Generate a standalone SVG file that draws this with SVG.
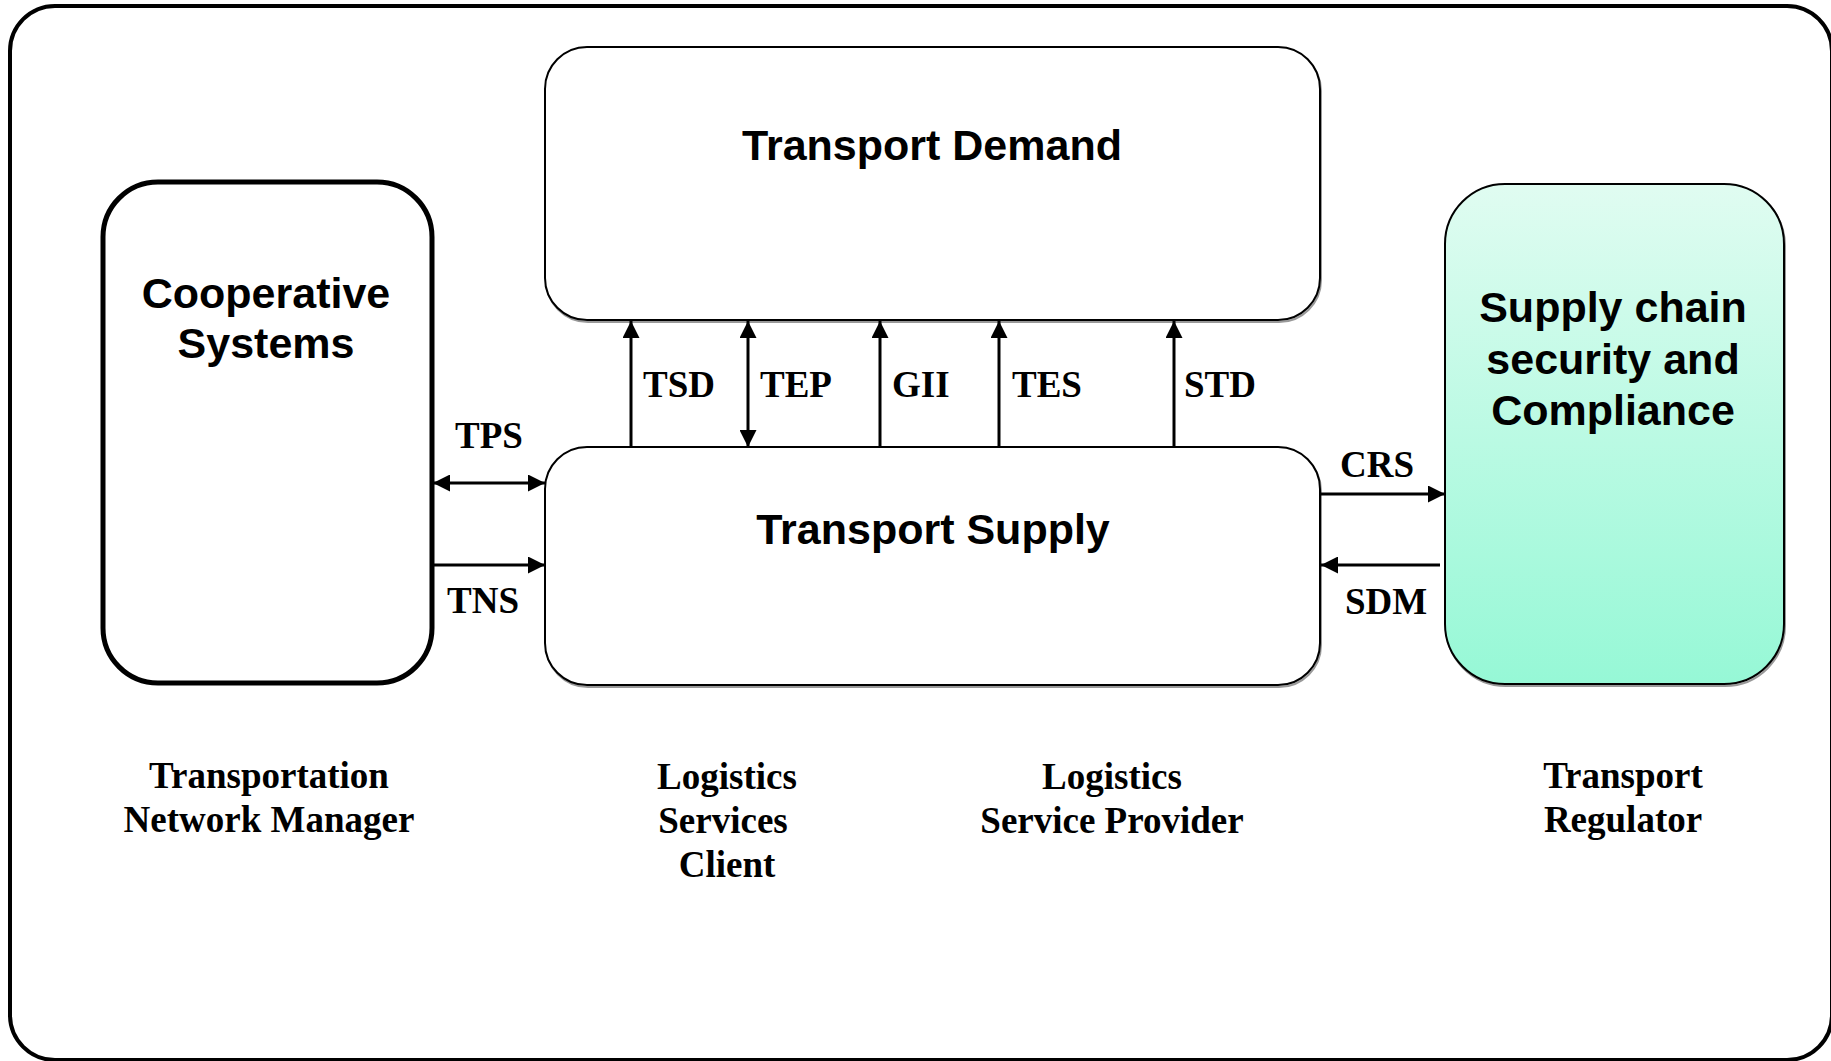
<svg xmlns="http://www.w3.org/2000/svg" width="1831" height="1061" viewBox="0 0 1831 1061">
<style>
.frame{fill:#fff;stroke:#000;stroke-width:4}
.box{fill:#fff;stroke:#000;stroke-width:2}
.thick{fill:#fff;stroke:#000;stroke-width:5}
.shadow{fill:none;stroke:#999;stroke-width:2}
.conn{stroke:#000;stroke-width:3;fill:none}
.title{font-family:"Liberation Sans",Arial,sans-serif;font-weight:bold;font-size:43px;fill:#000;text-anchor:middle}
.lbl{font-family:"Liberation Serif","Times New Roman",serif;font-weight:bold;font-size:37px;fill:#000}
.mid{text-anchor:middle}
</style>
<defs>
<linearGradient id="green" x1="0" y1="0" x2="0" y2="1">
<stop offset="0" stop-color="#e0fcf1"/>
<stop offset="1" stop-color="#96f8d6"/>
</linearGradient>
<marker id="arr" markerUnits="userSpaceOnUse" markerWidth="17" markerHeight="17" refX="17" refY="8.5" orient="auto-start-reverse">
<path d="M0,0 L17,8.5 L0,17 z" fill="#000"/>
</marker>
</defs>
<rect class="frame" x="10" y="6" width="1822" height="1054" rx="45"/>

<g id="cooperative-systems">
<rect class="thick" x="103" y="182" width="329" height="501" rx="55"/>
<text class="title" x="266" y="308">Cooperative</text>
<text class="title" x="266" y="358">Systems</text>
</g>

<g id="transport-demand">
<rect class="shadow" x="546" y="49" width="775" height="273" rx="42"/>
<rect class="box" x="545" y="47" width="775" height="273" rx="42"/>
<text class="title" x="932" y="160">Transport Demand</text>
</g>

<g id="transport-supply">
<rect class="shadow" x="546" y="449" width="775" height="238" rx="42"/>
<rect class="box" x="545" y="447" width="775" height="238" rx="42"/>
<text class="title" x="933" y="544">Transport Supply</text>
</g>

<g id="supply-chain-security">
<rect class="shadow" x="1446" y="186" width="339" height="500" rx="60"/>
<rect x="1445" y="184" width="339" height="500" rx="60" fill="url(#green)" stroke="#000" stroke-width="2"/>
<text class="title" x="1613" y="322">Supply chain</text>
<text class="title" x="1613" y="374">security and</text>
<text class="title" x="1613" y="425">Compliance</text>
</g>

<g id="connectors">
<line class="conn" x1="433" y1="483" x2="545" y2="483" marker-start="url(#arr)" marker-end="url(#arr)"/>
<line class="conn" x1="433" y1="565" x2="545" y2="565" marker-end="url(#arr)"/>
<line class="conn" x1="631" y1="447" x2="631" y2="321" marker-end="url(#arr)"/>
<line class="conn" x1="748" y1="447" x2="748" y2="321" marker-start="url(#arr)" marker-end="url(#arr)"/>
<line class="conn" x1="880" y1="447" x2="880" y2="321" marker-end="url(#arr)"/>
<line class="conn" x1="999" y1="447" x2="999" y2="321" marker-end="url(#arr)"/>
<line class="conn" x1="1174" y1="447" x2="1174" y2="321" marker-end="url(#arr)"/>
<line class="conn" x1="1321" y1="494" x2="1445" y2="494" marker-end="url(#arr)"/>
<line class="conn" x1="1440" y1="565" x2="1321" y2="565" marker-end="url(#arr)"/>
</g>

<g id="connector-labels">
<text class="lbl" x="455" y="448">TPS</text>
<text class="lbl" x="447" y="613">TNS</text>
<text class="lbl" x="643" y="397">TSD</text>
<text class="lbl" x="760" y="397">TEP</text>
<text class="lbl" x="892" y="397">GII</text>
<text class="lbl" x="1012" y="397">TES</text>
<text class="lbl" x="1184" y="397">STD</text>
<text class="lbl" x="1340" y="477">CRS</text>
<text class="lbl" x="1345" y="614">SDM</text>
</g>

<g id="roles">
<text class="lbl mid" x="269" y="788">Transportation</text>
<text class="lbl mid" x="269" y="832">Network Manager</text>
<text class="lbl mid" x="727" y="789">Logistics</text>
<text class="lbl mid" x="723" y="833">Services</text>
<text class="lbl mid" x="727" y="877">Client</text>
<text class="lbl mid" x="1112" y="789">Logistics</text>
<text class="lbl mid" x="1112" y="833">Service Provider</text>
<text class="lbl mid" x="1623" y="788">Transport</text>
<text class="lbl mid" x="1623" y="832">Regulator</text>
</g>
</svg>
